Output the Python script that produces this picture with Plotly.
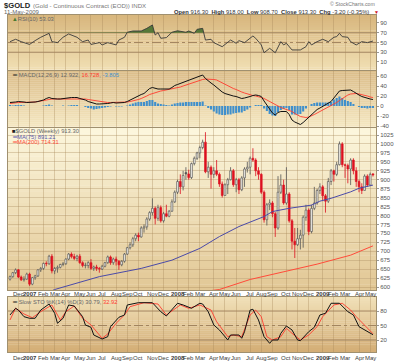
import plotly.graph_objects as go

# ---------------- data (weekly bars, first bar = week of 13-Nov-2006) ----------------
month_ticks = [3, 7, 12, 16, 20, 25, 29, 33, 38, 42, 46, 51, 55, 60, 64, 68, 73, 77, 81, 86,
               90, 94, 99, 103, 107, 112, 116, 120, 125, 129]
month_labels = ["Dec", "<b>2007</b>", "Feb", "Mar", "Apr", "May", "Jun", "Jul", "Aug", "Sep", "Oct",
                "Nov", "Dec", "<b>2008</b>", "Feb", "Mar", "Apr", "May", "Jun", "Jul", "Aug", "Sep",
                "Oct", "Nov", "Dec", "<b>2009</b>", "Feb", "Mar", "Apr", "May"]

opens = [622, 629, 640, 648, 628, 620, 622, 636, 608, 626, 631, 648, 652, 666, 665, 686, 645, 652, 655, 663,
         665, 678, 692, 685, 680, 686, 668, 660, 660, 668, 652, 656, 652, 650, 658, 668, 684, 668, 678, 672,
         662, 672, 692, 710, 718, 735, 745, 740, 765, 768, 790, 808, 820, 792, 822, 785, 805, 798, 812, 838,
         865, 895, 880, 920, 916, 906, 945, 960, 975, 990, 1005, 922, 935, 915, 925, 915, 888, 856, 886, 900,
         925, 886, 900, 872, 905, 930, 935, 960, 955, 925, 915, 865, 788, 830, 835, 805, 765, 865, 885, 835,
         860, 785, 728, 718, 735, 745, 795, 815, 755, 820, 835, 870, 880, 855, 840, 895, 925, 915, 942, 1000,
         942, 940, 930, 955, 925, 895, 880, 870, 910, 885, 916.3]
highs = [632, 642, 652, 650, 632, 630, 640, 640, 628, 634, 650, 656, 668, 672, 690, 692, 656, 660, 665, 670,
         680, 695, 697, 693, 690, 692, 672, 668, 672, 678, 660, 662, 656, 662, 670, 688, 688, 682, 685, 675,
         675, 695, 712, 725, 740, 750, 752, 770, 775, 795, 812, 848, 825, 830, 828, 810, 830, 815, 845, 870,
         900, 915, 925, 935, 928, 948, 965, 978, 995, 1012, 1033, 950, 940, 935, 955, 920, 895, 890, 905, 935,
         930, 905, 905, 910, 935, 950, 965, 988, 960, 935, 918, 870, 835, 845, 840, 810, 910, 915, 900, 935,
         865, 790, 765, 765, 760, 800, 830, 820, 830, 880, 875, 890, 885, 860, 905, 930, 928, 950, 1007, 1005,
         945, 945, 960, 960, 935, 900, 890, 915, 915, 920, 918]
lows = [618, 626, 636, 625, 617, 615, 620, 603, 605, 620, 628, 642, 648, 658, 662, 638, 636, 640, 652, 658,
        662, 675, 680, 675, 672, 665, 655, 652, 652, 648, 645, 645, 640, 648, 655, 665, 662, 662, 660, 648,
        658, 668, 690, 705, 712, 728, 728, 738, 752, 760, 785, 800, 775, 785, 780, 780, 795, 795, 810, 835,
        860, 860, 870, 900, 900, 902, 940, 955, 960, 985, 918, 905, 875, 905, 910, 880, 850, 855, 860, 898,
        880, 865, 860, 868, 880, 920, 915, 950, 910, 900, 860, 780, 772, 815, 795, 740, 760, 860, 830, 830,
        780, 705, 681, 715, 705, 710, 785, 745, 750, 815, 830, 860, 840, 808, 835, 885, 895, 910, 940, 935,
        905, 890, 885, 915, 880, 865, 860, 870, 880, 885, 908.7]
closes = [629, 640, 648, 628, 620, 622, 636, 608, 626, 631, 648, 652, 666, 665, 686, 645, 652, 655, 663, 665,
          678, 692, 685, 680, 686, 668, 660, 661, 668, 652, 656, 652, 650, 658, 668, 684, 668, 678, 672, 662,
          672, 692, 710, 718, 735, 745, 740, 765, 768, 790, 808, 820, 792, 822, 785, 805, 798, 812, 838, 865,
          895, 880, 912, 916, 906, 945, 960, 975, 990, 1005, 922, 935, 915, 925, 915, 888, 856, 886, 900, 925,
          886, 900, 872, 905, 930, 935, 960, 955, 925, 915, 865, 788, 830, 835, 805, 765, 865, 885, 835, 860,
          785, 728, 718, 735, 745, 795, 815, 755, 820, 835, 870, 880, 855, 840, 895, 925, 915, 942, 1000, 942,
          940, 930, 955, 925, 895, 880, 870, 910, 885, 915, 913.3]

ma75_weeks = [14, 16, 32, 47, 58, 68, 75, 82, 91, 94, 100, 108, 111, 115, 122, 125, 130]
ma75_vals = [586, 593, 629, 652, 675, 708, 741, 769, 797, 811, 820, 829, 840, 848, 866, 876, 885]
ma200_weeks = [68, 75, 86, 98, 110, 122, 130]
ma200_vals = [586, 593, 621, 643, 664, 689, 715]

rsi_weeks = [0, 2, 4, 5, 7, 9, 11, 14, 15, 17, 19, 21, 24, 26, 28, 29, 32, 33, 35, 38, 39, 41, 42, 44, 47,
             49, 51, 52, 53, 54, 56, 58, 60, 63, 64, 66, 67, 69, 70, 72, 73, 76, 79, 81, 82, 84, 87, 88,
             90, 91, 93, 95, 97, 98, 99, 101, 104, 106, 107, 108, 110, 112, 114, 116, 117, 118, 119, 121,
             122, 124, 126, 128, 129, 130]
rsi_vals = [51.7, 56.6, 51.7, 49.7, 46, 53.8, 60.7, 68.8, 51.7, 49.7, 60.7, 67.5, 60.7, 51.7, 55, 46, 49.7,
            45, 49.7, 45, 55, 60.7, 71, 73.6, 73.6, 79, 86, 65.4, 70, 58.6, 60, 71, 74, 71, 73.6, 68.8, 77, 79,
            55, 56.6, 49.7, 41.4, 55, 48.4, 53.8, 49.7, 63.4, 58.6, 45, 29, 38, 29, 51.7, 45, 48.4, 34.7,
            34.7, 41.4, 51.7, 45, 51.7, 56.6, 51.7, 60.7, 62, 68.8, 62, 60.7, 51.7, 45, 51.7, 49.7, 51.7, 53]

macd_vals = [7, 7, 8, 9, 9, 8, 7, 7, 7, 8, 9, 10, 12, 15, 17, 15, 14, 14, 14, 15,
             15, 16, 17, 17, 17, 15, 14, 12, 9, 7, 5, 4, 4, 4, 5, 5, 6, 7, 6, 6,
             6, 7, 9, 12, 15, 18, 21, 23, 25, 30, 35, 37, 35, 34, 34, 34, 34, 34, 37, 41,
             43, 45, 47, 50, 52, 54, 56, 58, 60, 62, 55, 50, 46, 42, 37, 32, 28, 25, 23, 21,
             20, 19, 17, 15, 16, 17, 19, 21, 22, 21, 19, 10, 2, -7, -14, -18, -13, -11, -11, -11,
             -17, -28, -32, -35, -37, -33, -28, -22, -16, -11, -7, -4, -1, 2, 5, 9, 16, 23, 30, 31,
             31, 32, 32, 29, 25, 22, 19, 17, 15, 14, 13]
signal_vals = [5, 6, 6, 7, 7, 7, 7, 7, 7, 8, 9, 10, 11, 13, 14, 14, 14, 14, 14, 14,
               15, 15, 15, 15, 15, 15, 14, 14, 13, 12, 12, 10, 9, 8, 8, 7, 7, 7, 7, 7,
               7, 7, 8, 9, 10, 11, 13, 15, 17, 20, 23, 25, 27, 29, 30, 31, 32, 33, 34, 36,
               37, 38, 40, 42, 44, 46, 48, 50, 52, 53, 54, 54, 53, 53, 52, 49, 46, 43, 40, 38,
               35, 33, 30, 28, 26, 24, 22, 21, 20, 19, 17, 15, 12, 9, 5, 2, -1, -3, -5, -7,
               -9, -11, -15, -18, -21, -22, -23, -22, -20, -17, -14, -11, -8, -5, -2, 1, 3, 7, 11, 15,
               19, 22, 24, 25, 25, 24, 23, 21, 20, 18, 17]

stok_weeks = [0, 2, 3, 5, 7, 9, 11, 14, 16, 17, 19, 21, 23, 26, 27, 29, 30, 33, 35, 36, 39, 41, 42, 46, 51,
              54, 56, 60, 62, 65, 68, 69, 71, 73, 75, 78, 79, 82, 83, 84, 86, 87, 89, 91, 93, 94, 96, 97,
              99, 101, 103, 104, 107, 109, 111, 113, 115, 118, 121, 123, 125, 127, 129, 130]
stok_vals = [71.8, 85.6, 82, 68.3, 65, 65, 82, 94.5, 75.3, 54.6, 65, 92.5, 90.4, 68.3, 51.1, 46.3, 30.4,
             22.1, 26.9, 47.6, 67, 71.8, 92.5, 97.2, 97.2, 78.6, 69.7, 96, 92.5, 85.6, 96, 94.5, 78.6, 51.1,
             40.8, 20.1, 30.4, 30.4, 23.6, 37.2, 82, 83.6, 61.5, 26.9, 13.2, 20.1, 20.1, 33.9, 49, 40.8,
             20.1, 18.6, 37.2, 46.3, 71.8, 75.3, 96, 96, 78.6, 71.8, 47.6, 40.8, 35.2, 31]
stod_weeks = [0, 2, 5, 8, 11, 15, 18, 20, 23, 26, 29, 31, 33, 35, 38, 41, 43, 48, 53, 56, 61, 64, 68, 72,
              74, 78, 80, 83, 86, 88, 90, 92, 94, 97, 99, 101, 104, 107, 110, 112, 116, 119, 122, 124,
              128, 130]
stod_vals = [61.5, 85.6, 73.9, 66.2, 78.6, 92.5, 61.5, 78.6, 90.4, 65, 51.1, 37.2, 23.6, 32.5, 54.6, 71.8,
             89, 97.2, 94.5, 71.8, 92.5, 85.6, 92.5, 82, 57.9, 26.9, 30.4, 26.9, 71.8, 82, 68.3, 26.9, 20.1,
             26.9, 44.3, 33.9, 20.1, 30.4, 47.6, 68.3, 92.5, 96, 82, 68.3, 44.3, 33]

# ---------------- layout helpers ----------------
W, H = 400, 363
XL, XR = 8, 376
weeks = list(range(len(closes)))
XRANGE = [-0.72, 131.09]


def py(p):
    return 1 - p / H


def mix(c0, c1, t):
    return "rgb(%d,%d,%d)" % tuple(round(a + (b - a) * t) for a, b in zip(c0, c1))


shapes = []


def gradient(top, bot, c0, c1, n=28):
    h = (bot - top) / n
    for k in range(n):
        shapes.append(dict(type="rect", xref="paper", yref="paper", layer="below",
                           x0=XL / W, x1=XR / W, y0=py(top + (k + 1) * h + 0.3), y1=py(top + k * h),
                           fillcolor=mix(c0, c1, k / (n - 1)), line=dict(width=0)))


P_RSI = (15, 69.5)
P_MACD = (70.5, 126.5)
P_PRICE = (127.5, 290)
P_STO = (297, 352)

gradient(*P_RSI, (216, 183, 126), (240, 222, 178))
gradient(*P_MACD, (220, 190, 138), (244, 230, 192))
gradient(*P_PRICE, (252, 246, 220), (226, 200, 150))
gradient(*P_STO, (240, 224, 184), (212, 174, 118))

# reference lines (RSI 70/50/30, STO 80/50/20)
for xr, yr, lv, dash in [("x", "y", 70, "solid"), ("x", "y", 30, "solid"), ("x", "y", 50, "dashdot"),
                         ("x4", "y4", 80, "solid"), ("x4", "y4", 20, "solid"), ("x4", "y4", 50, "dashdot")]:
    shapes.append(dict(type="line", xref=xr, yref=yr, x0=XRANGE[0], x1=XRANGE[1], y0=lv, y1=lv,
                       layer="below", line=dict(color="rgba(150,120,85,0.85)", width=1, dash=dash)))

fig = go.Figure()

# ---- RSI ----
fx, fy = [], []
for k in range(len(rsi_weeks)):
    x0, v0 = rsi_weeks[k], rsi_vals[k]
    if k > 0:
        xp, vp = rsi_weeks[k - 1], rsi_vals[k - 1]
        if (vp - 70) * (v0 - 70) < 0:
            t = (70 - vp) / (v0 - vp)
            fx.append(xp + t * (x0 - xp))
            fy.append(70)
    fx.append(x0)
    fy.append(max(v0, 70))
fx += [fx[-1], fx[0]]
fy += [70, 70]
fig.add_trace(go.Scatter(x=fx, y=fy, fill="toself", fillcolor="rgba(70,112,45,0.9)",
                         line=dict(width=0), mode="lines", xaxis="x", yaxis="y", hoverinfo="skip"))
fig.add_trace(go.Scatter(x=rsi_weeks, y=rsi_vals, mode="lines", line=dict(color="#3a3a3a", width=0.9),
                         xaxis="x", yaxis="y"))

# ---- MACD ----
hist = [m - s for m, s in zip(macd_vals, signal_vals)]
fig.add_trace(go.Bar(x=weeks, y=hist, marker=dict(color="#3f8fcc", line=dict(width=0)), width=0.75,
                     xaxis="x2", yaxis="y2"))
fig.add_trace(go.Scatter(x=weeks, y=signal_vals, mode="lines", line=dict(color="#ff3b2f", width=0.9),
                         xaxis="x2", yaxis="y2"))
fig.add_trace(go.Scatter(x=weeks, y=macd_vals, mode="lines", line=dict(color="#111111", width=1),
                         xaxis="x2", yaxis="y2"))

# ---- Price candles ----
RED, BLK = "#dc1020", "#555555"
body_base, body_h, fills, edges = [], [], [], []
wick = {RED: ([], []), BLK: ([], [])}
for i in weeks:
    o, h, l, c = opens[i], highs[i], lows[i], closes[i]
    prev = closes[i - 1] if i > 0 else o
    col = BLK if c >= prev else RED
    edges.append(col)
    fills.append("#fffdf6" if c > o else col)
    lo_b, hi_b = min(o, c), max(o, c)
    body_base.append(lo_b)
    body_h.append(max(hi_b - lo_b, 1.2))
    wx, wy = wick[col]
    wx += [i, i, None, i, i, None]
    wy += [hi_b, h, None, lo_b, l, None]
for col, (wx, wy) in wick.items():
    fig.add_trace(go.Scatter(x=wx, y=wy, mode="lines", line=dict(color=col, width=0.8),
                             xaxis="x3", yaxis="y3", hoverinfo="skip"))
fig.add_trace(go.Bar(x=weeks, y=body_h, base=body_base, width=0.62,
                     marker=dict(color=fills, line=dict(color=edges, width=0.7)),
                     xaxis="x3", yaxis="y3"))
fig.add_trace(go.Scatter(x=ma75_weeks, y=ma75_vals, mode="lines", line=dict(color="#4a4aa8", width=1),
                         xaxis="x3", yaxis="y3"))
fig.add_trace(go.Scatter(x=ma200_weeks, y=ma200_vals, mode="lines", line=dict(color="#ff4b3a", width=1),
                         xaxis="x3", yaxis="y3"))

# ---- Slow stochastic ----
fig.add_trace(go.Scatter(x=stod_weeks, y=stod_vals, mode="lines", line=dict(color="#ff3b2f", width=0.9),
                         xaxis="x4", yaxis="y4"))
fig.add_trace(go.Scatter(x=stok_weeks, y=stok_vals, mode="lines", line=dict(color="#111111", width=1),
                         xaxis="x4", yaxis="y4"))

FONT = "Liberation Sans, Arial, sans-serif"
grid_c = "rgba(165,135,90,0.35)"


def xax(anchor):
    return dict(domain=[XL / W, XR / W], range=XRANGE, anchor=anchor, tickmode="array",
                tickvals=month_ticks, showticklabels=False, ticks="", showgrid=True,
                gridcolor=grid_c, gridwidth=1, zeroline=False, showline=True, mirror=True,
                linecolor="#a0906f", linewidth=1, fixedrange=True, automargin=False)


def yax(panel, rng, tv, grid, anchor):
    return dict(domain=[py(panel[1]), py(panel[0])], range=rng, anchor=anchor, side="right",
                tickmode="array", tickvals=tv, ticktext=[str(v) for v in tv],
                tickfont=dict(family=FONT, size=6, color="#555"), ticks="outside", ticklen=2,
                tickcolor="#999", showgrid=grid, gridcolor=grid_c, zeroline=False, showline=True,
                mirror=True, linecolor="#a0906f", linewidth=1, fixedrange=True, automargin=False)


annotations = []


def ann(x, y, text, size=6, color="#555", anchor="left"):
    annotations.append(dict(x=x / W, y=py(y), xref="paper", yref="paper", text=text, showarrow=False,
                            xanchor=anchor, yanchor="middle",
                            font=dict(family=FONT, size=size, color=color)))


# month labels under the price panel and under the stochastic panel
for ypix, xr in [(293.6, "x3"), (357.6, "x4")]:
    for wk, lab in zip(month_ticks, month_labels):
        annotations.append(dict(x=wk, y=py(ypix), xref=xr, yref="paper", text=lab, showarrow=False,
                                xanchor="center", yanchor="middle",
                                font=dict(family=FONT, size=6, color="#3a3a3a")))

ann(1.5, 5, "<b>$GOLD</b>", 7.6, "#222")
ann(31, 5.5, "(Gold - Continuous Contract (EOD)) INDX", 6.1, "#777")
ann(1.5, 11.5, "11-May-2009", 6, "#666")
ann(377, 4.5, "© StockCharts.com", 5.2, "#777", "right")
ann(371, 12, "<b>Open</b> 916.30  <b>High</b> 918.00  <b>Low</b> 908.70  <b>Close</b> 913.30  "
             "<b>Chg</b> -3.20 (-0.35%)", 5.8, "#333", "right")
ann(371.5, 12.5, "▼", 5, "#d01020")
ann(10, 18.8, "<span style='color:#4a7a30'>▲</span>RSI(10) 53.03", 5.8, "#666")
ann(10, 75.5, "<span style='color:#222'>═</span> MACD(12,26,9) 12.922, "
              "<span style='color:#ff3b2f'>16.728</span>, <span style='color:#3f8fcc'>-3.805</span>", 5.8, "#666")
ann(10, 131, "<span style='color:#222'>■</span>$GOLD (Weekly) 913.30", 5.8, "#666")
ann(10, 136.5, "═MA(75) 891.21", 5.8, "#5a5ab0")
ann(10, 142, "═MA(200) 714.31", 5.8, "#ff4b3a")
ann(10, 302, "<span style='color:#222'>═</span> Slow STO %K(14) %D(3) 30.79, "
             "<span style='color:#ff3b2f'>32.92</span>", 5.8, "#666")

fig.update_layout(
    width=W, height=H, margin=dict(l=0, r=0, t=0, b=0, autoexpand=False), showlegend=False,
    paper_bgcolor="white", plot_bgcolor="rgba(0,0,0,0)", barmode="overlay",
    xaxis=xax("y"), xaxis2=xax("y2"), xaxis3=xax("y3"), xaxis4=xax("y4"),
    yaxis=yax(P_RSI, [-5.4, 106.4], [10, 30, 50, 70, 90], False, "x"),
    yaxis2=yax(P_MACD, [-41, 71], [-40, -20, 0, 20, 40, 60], False, "x2"),
    yaxis3=yax(P_PRICE, [591.6, 1046], list(range(600, 1050, 25)), True, "x3"),
    yaxis4=yax(P_STO, [-4.8, 109], [20, 50, 80], False, "x4"),
    shapes=shapes, annotations=annotations,
)

fig.write_html("out.html", config={"displayModeBar": False, "staticPlot": True},
               post_script="document.body.style.margin='0';document.body.style.overflow='hidden';")
